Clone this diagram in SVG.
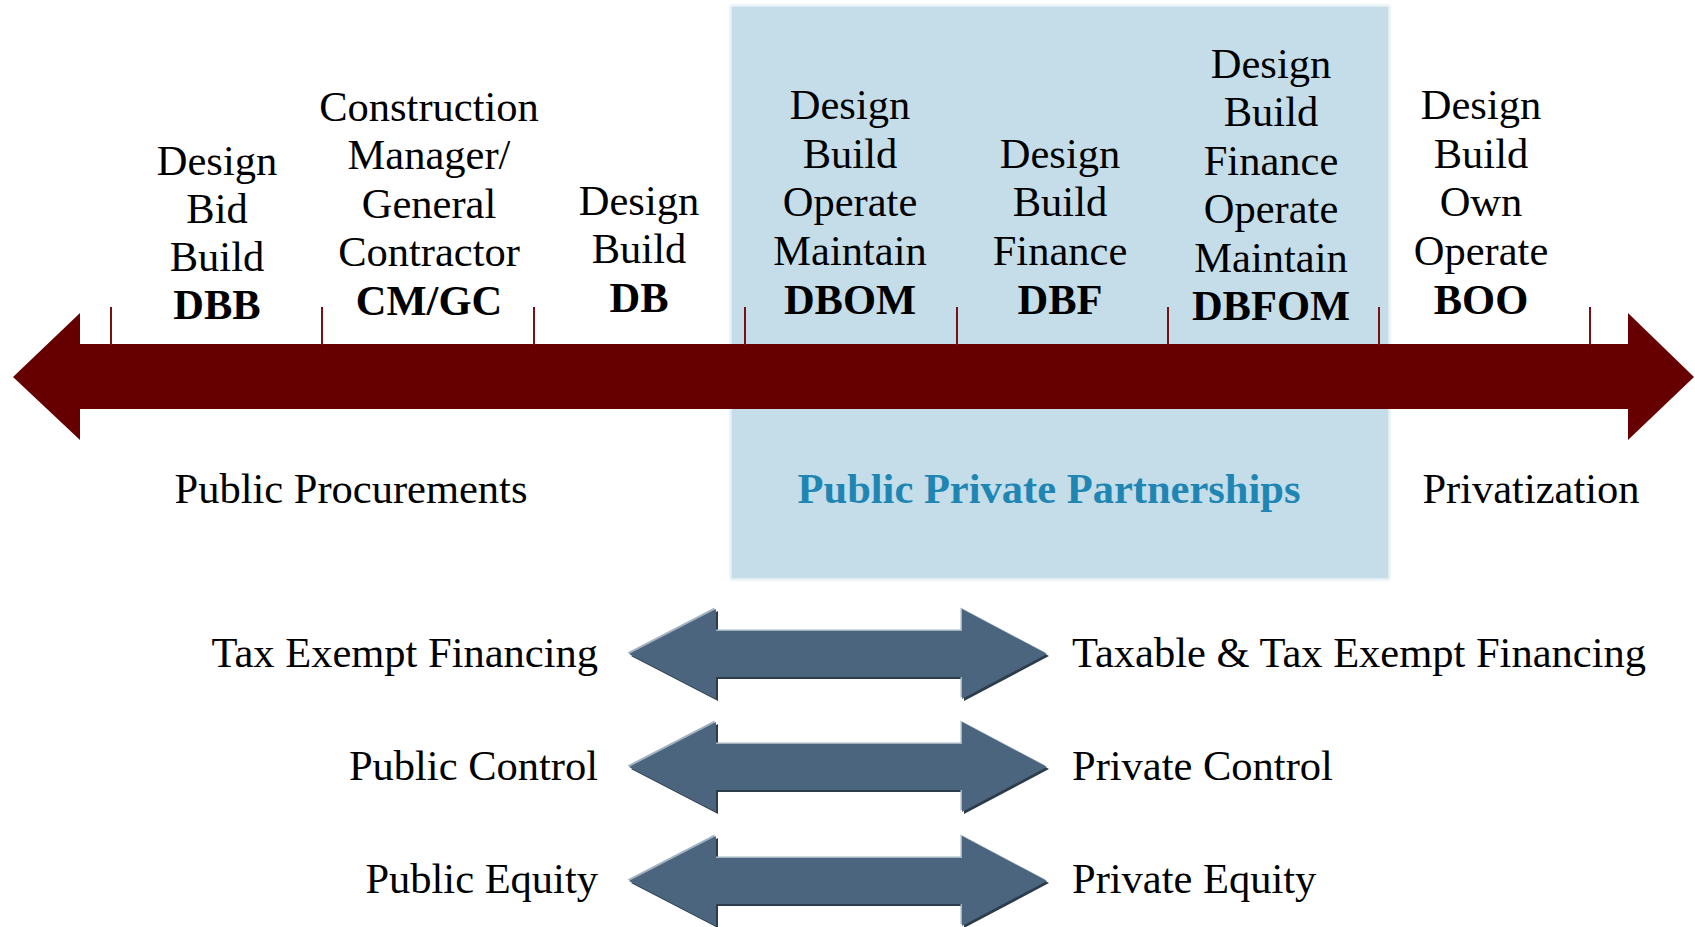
<svg xmlns="http://www.w3.org/2000/svg" width="1695" height="927" viewBox="0 0 1695 927">
<style>
  text { font-family: "Liberation Serif", "Times New Roman", serif; font-size: 42.5px; fill: #000; }
  .c { text-anchor: middle; }
  .b { font-weight: bold; }
  .r { text-anchor: end; }
  .ppp { fill: #1f86b4; font-weight: bold; }
  .tick { stroke: #7a1010; stroke-width: 2; }
</style>
<defs>
  <path id="dbl" d="M629,0 L716,-45 L716,-23 L962,-23 L962,-45 L1047,0 L962,45 L962,23 L716,23 L716,45 Z"/>
  <filter id="soft" x="-5%" y="-5%" width="110%" height="110%">
    <feGaussianBlur stdDeviation="1.5"/>
  </filter>
</defs>
<rect width="1695" height="927" fill="#ffffff"/>

<g id="ppp-band">
  <rect x="730" y="5" width="660" height="575" fill="#dbe9f0" filter="url(#soft)"/>
  <rect x="732" y="7" width="656" height="571" fill="#c4dde8"/>
</g>

<g id="connectors">
  <g id="timeline">
    <path d="M13,377 L80,313 L80,344 L1628,344 L1628,313 L1694,377 L1628,440 L1628,409 L80,409 L80,440 Z" fill="#660000"/>
    <line class="tick" x1="111" y1="307" x2="111" y2="345"/>
    <line class="tick" x1="322" y1="307" x2="322" y2="345"/>
    <line class="tick" x1="534" y1="307" x2="534" y2="345"/>
    <line class="tick" x1="745" y1="307" x2="745" y2="345"/>
    <line class="tick" x1="957" y1="307" x2="957" y2="345"/>
    <line class="tick" x1="1168" y1="307" x2="1168" y2="345"/>
    <line class="tick" x1="1379" y1="307" x2="1379" y2="345"/>
    <line class="tick" x1="1590" y1="307" x2="1590" y2="345"/>
  </g>
  <g id="arrow-financing" transform="translate(0,654)">
    <use href="#dbl" transform="translate(2,2)" fill="#2c3c4b"/>
    <use href="#dbl" transform="translate(-1.5,-1.5)" fill="#a3b3c1"/>
    <use href="#dbl" fill="#4b657e"/>
  </g>
  <g id="arrow-control" transform="translate(0,767)">
    <use href="#dbl" transform="translate(2,2)" fill="#2c3c4b"/>
    <use href="#dbl" transform="translate(-1.5,-1.5)" fill="#a3b3c1"/>
    <use href="#dbl" fill="#4b657e"/>
  </g>
  <g id="arrow-equity" transform="translate(0,881)">
    <use href="#dbl" transform="translate(2,2)" fill="#2c3c4b"/>
    <use href="#dbl" transform="translate(-1.5,-1.5)" fill="#a3b3c1"/>
    <use href="#dbl" fill="#4b657e"/>
  </g>
</g>

<g id="node-dbb">
  <text class="c" x="217" y="175">Design</text>
  <text class="c" x="217" y="223">Bid</text>
  <text class="c" x="217" y="271">Build</text>
  <text class="c b" x="217" y="319">DBB</text>
</g>
<g id="node-cmgc">
  <text class="c" x="429" y="121">Construction</text>
  <text class="c" x="429" y="169">Manager/</text>
  <text class="c" x="429" y="218">General</text>
  <text class="c" x="429" y="266">Contractor</text>
  <text class="c b" x="429" y="315">CM/GC</text>
</g>
<g id="node-db">
  <text class="c" x="639" y="215">Design</text>
  <text class="c" x="639" y="263">Build</text>
  <text class="c b" x="639" y="312">DB</text>
</g>
<g id="node-dbom">
  <text class="c" x="850" y="119">Design</text>
  <text class="c" x="850" y="168">Build</text>
  <text class="c" x="850" y="216">Operate</text>
  <text class="c" x="850" y="265">Maintain</text>
  <text class="c b" x="850" y="314">DBOM</text>
</g>
<g id="node-dbf">
  <text class="c" x="1060" y="168">Design</text>
  <text class="c" x="1060" y="216">Build</text>
  <text class="c" x="1060" y="265">Finance</text>
  <text class="c b" x="1060" y="314">DBF</text>
</g>
<g id="node-dbfom">
  <text class="c" x="1271" y="78">Design</text>
  <text class="c" x="1271" y="126">Build</text>
  <text class="c" x="1271" y="175">Finance</text>
  <text class="c" x="1271" y="223">Operate</text>
  <text class="c" x="1271" y="272">Maintain</text>
  <text class="c b" x="1271" y="320">DBFOM</text>
</g>
<g id="node-boo">
  <text class="c" x="1481" y="119">Design</text>
  <text class="c" x="1481" y="168">Build</text>
  <text class="c" x="1481" y="216">Own</text>
  <text class="c" x="1481" y="265">Operate</text>
  <text class="c b" x="1481" y="314">BOO</text>
</g>

<g id="node-categories">
  <text class="c" x="351" y="503">Public Procurements</text>
  <text class="c ppp" x="1049" y="503">Public Private Partnerships</text>
  <text class="c" x="1531" y="503">Privatization</text>
</g>

<g id="node-left-labels">
  <text class="r" x="598" y="667">Tax Exempt Financing</text>
  <text class="r" x="598" y="780">Public Control</text>
  <text class="r" x="598" y="893">Public Equity</text>
</g>
<g id="node-right-labels">
  <text x="1072" y="667">Taxable &amp; Tax Exempt Financing</text>
  <text x="1072" y="780">Private Control</text>
  <text x="1072" y="893">Private Equity</text>
</g>
</svg>
